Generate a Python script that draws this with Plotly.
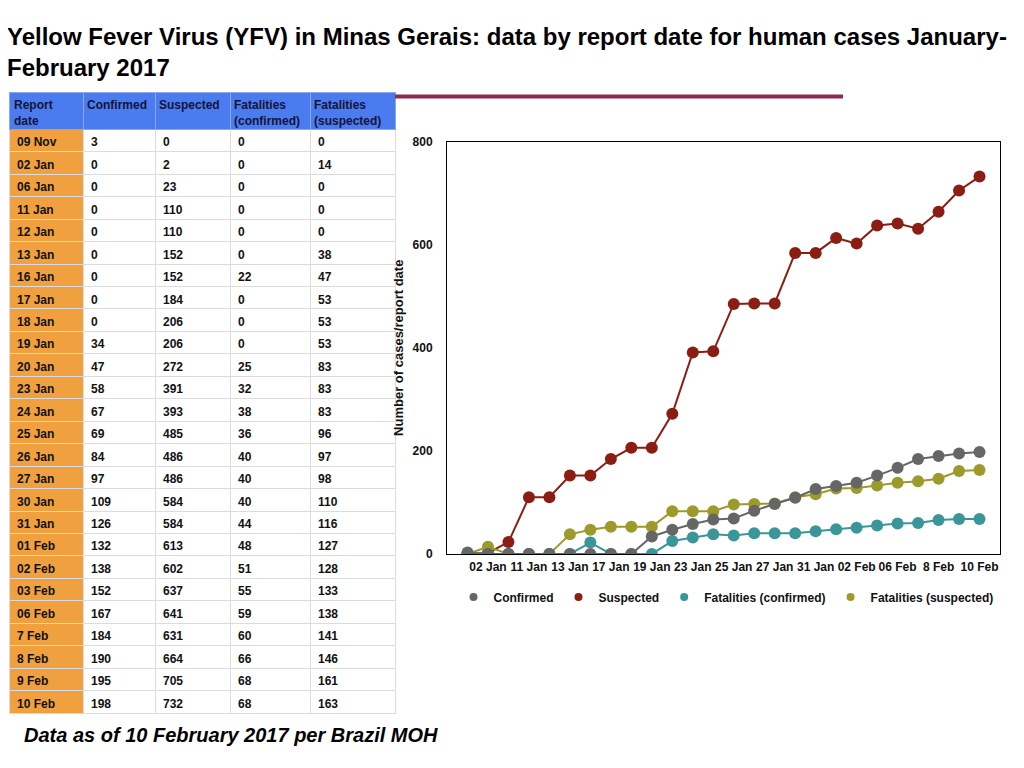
import plotly.graph_objects as go

report_dates = ["09 Nov", "02 Jan", "06 Jan", "11 Jan", "12 Jan", "13 Jan", "16 Jan", "17 Jan",
                "18 Jan", "19 Jan", "20 Jan", "23 Jan", "24 Jan", "25 Jan", "26 Jan", "27 Jan",
                "30 Jan", "31 Jan", "01 Feb", "02 Feb", "03 Feb", "06 Feb", "7 Feb", "8 Feb",
                "9 Feb", "10 Feb"]
confirmed = [3, 0, 0, 0, 0, 0, 0, 0, 0, 34, 47, 58, 67, 69, 84, 97, 109, 126, 132, 138, 152,
             167, 184, 190, 195, 198]
suspected = [0, 2, 23, 110, 110, 152, 152, 184, 206, 206, 272, 391, 393, 485, 486, 486, 584,
             584, 613, 602, 637, 641, 631, 664, 705, 732]
fatal_confirmed = [0, 0, 0, 0, 0, 0, 22, 0, 0, 0, 25, 32, 38, 36, 40, 40, 40, 44, 48, 51, 55,
                   59, 60, 66, 68, 68]
fatal_suspected = [0, 14, 0, 0, 0, 38, 47, 53, 53, 53, 83, 83, 83, 96, 97, 98, 110, 116, 127,
                   128, 133, 138, 141, 146, 161, 163]

header_labels = ["Report<br>date", "Confirmed", "Suspected", "Fatalities<br>(confirmed)",
                 "Fatalities<br>(suspected)"]
series_names = ["Confirmed", "Suspected", "Fatalities (confirmed)", "Fatalities (suspected)"]
series_colors = ["#666666", "#8c1d12", "#3b9699", "#9b9a2b"]
y_ticks = [0, 200, 400, 600, 800]
x_tick_labels = report_dates[1::2]

# figure sized to fit the window; page offsets compensated
W, H = 1008, 752
XOFF = 8
YOFF, YSC = 15.9, 0.978


def px(x):
    return (x - XOFF) / W


def py(y):
    return 1 - ((y - YOFF) / YSC) / H


FONT = "Liberation Sans, Arial, Helvetica"
fig = go.Figure()

# ---- Table ----
col_edges = [10, 83, 155, 230, 310, 395]
col_widths = [col_edges[i + 1] - col_edges[i] for i in range(5)]
n = len(report_dates)
fig.add_trace(go.Table(
    domain=dict(x=[px(9), px(395)], y=[py(719), py(93)]),
    columnwidth=[col_widths[0] + 1] + col_widths[1:],
    header=dict(
        values=[""] * 5,
        fill_color="#4a7cf0",
        line=dict(color="#8aa8f2", width=1),
        height=37,
    ),
    cells=dict(
        values=[report_dates, confirmed, suspected, fatal_confirmed, fatal_suspected],
        fill_color=[["#f0a03e"] * n] + [["#ffffff"] * n] * 4,
        line=dict(color="#dcdcdc", width=1),
        align="left",
        height=22.45,
        font=dict(family=FONT, size=12, color="#111111", weight="bold"),
    ),
))
for i, lab in enumerate(header_labels):
    fig.add_annotation(
        xref="paper", yref="paper", x=px(col_edges[i] + 2), y=py(97),
        xanchor="left", yanchor="top", align="left", showarrow=False,
        text=lab, font=dict(family=FONT, size=12, color="#14143a", weight="bold"),
    )

# ---- Lines ----
all_series = [confirmed, suspected, fatal_confirmed, fatal_suspected]
for idx in [1, 3, 2, 0]:
    fig.add_trace(go.Scatter(
        x=report_dates, y=all_series[idx], name=series_names[idx], mode="lines+markers",
        line=dict(color=series_colors[idx], width=2),
        marker=dict(color=series_colors[idx], size=12),
        showlegend=False, hoverinfo="x+y+name",
    ))
# legend entries (dots only)
for idx in range(4):
    fig.add_trace(go.Scatter(
        x=[None], y=[None], name=series_names[idx], mode="markers",
        marker=dict(color=series_colors[idx], size=8),
        showlegend=True, legendrank=idx + 1,
    ))

fig.update_layout(
    width=W, height=H,
    margin=dict(l=0, r=0, t=0, b=0),
    paper_bgcolor="white", plot_bgcolor="white",
    font=dict(family=FONT, color="#111111"),
    xaxis=dict(
        domain=[px(447), px(1000)],
        type="category",
        range=[-1, 26],
        tickmode="array", tickvals=x_tick_labels, ticktext=x_tick_labels,
        tickangle=0,
        showgrid=False, zeroline=False,
        showline=True, linecolor="black", linewidth=1, mirror=True,
        ticks="", ticklabelstandoff=2,
        tickfont=dict(size=12, weight="bold"),
    ),
    yaxis=dict(
        domain=[py(553), py(142)],
        range=[0, 800],
        tickvals=y_ticks,
        showgrid=False, zeroline=False,
        showline=True, linecolor="black", linewidth=1, mirror=True,
        ticks="", ticklabelstandoff=11,
        tickfont=dict(size=12, weight="bold"),
        title=dict(text="Number of cases/report date", font=dict(size=13, weight="bold"), standoff=6),
    ),
    legend=dict(
        orientation="h", x=px(726), xanchor="center", y=py(596), yanchor="middle",
        font=dict(size=12, weight="bold"), traceorder="normal", itemwidth=30,
    ),
    showlegend=True,
)

# Title
fig.add_annotation(
    xref="paper", yref="paper", x=px(5), y=py(22), xanchor="left", yanchor="top",
    align="left", showarrow=False,
    text="<b>Yellow Fever Virus (YFV) in Minas Gerais: data by report date for human cases January-<br>February 2017</b>",
    font=dict(family=FONT, size=24, color="black"),
)
# Footer
fig.add_annotation(
    xref="paper", yref="paper", x=px(22), y=py(733), xanchor="left", yanchor="middle",
    showarrow=False,
    text="<b><i>Data as of 10 February 2017 per Brazil MOH</i></b>",
    font=dict(family=FONT, size=20, color="black"),
)
# Maroon rule
fig.add_shape(type="line", xref="paper", yref="paper",
              x0=px(395), x1=px(843), y0=py(97), y1=py(97),
              line=dict(color="#8e2a52", width=4))

fig.write_html("out.html")
